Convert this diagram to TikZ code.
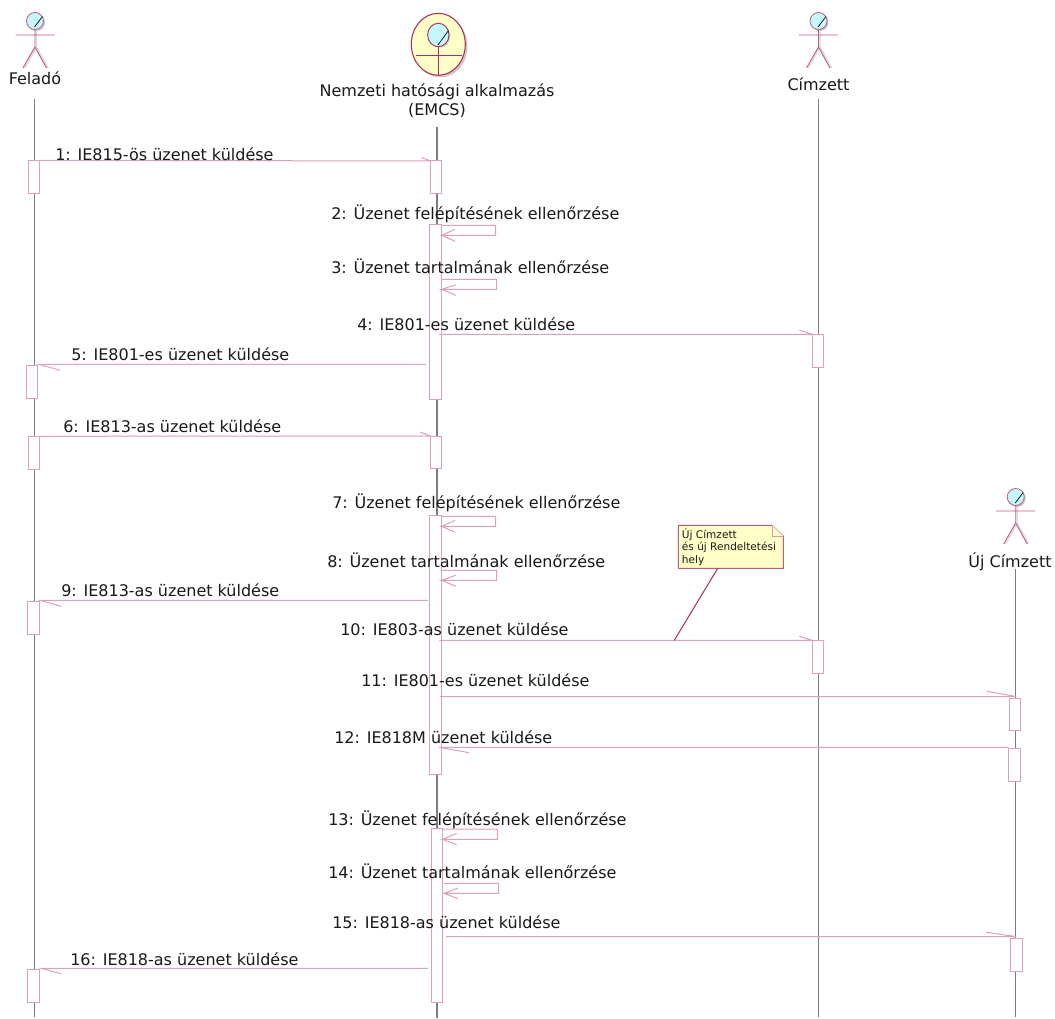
\documentclass[tikz,border=0pt]{standalone}
\usepackage{fontspec}
\usetikzlibrary{shapes.geometric}
\setmainfont{DejaVu Sans}
\definecolor{ln}{RGB}{222,160,182}
\definecolor{stick}{RGB}{196,90,125}
\definecolor{dk}{RGB}{175,45,90}
\definecolor{lifec}{RGB}{125,125,125}
\definecolor{cyanfill}{RGB}{196,248,255}
\definecolor{notefill}{RGB}{255,255,200}
\definecolor{txt}{RGB}{25,25,25}
\newcommand{\actbox}[5]{\node[actv,minimum width={(#4-#2)*0.75pt},minimum height={(#5-#3)*0.75pt}] (#1) at (#2,#3) {};}
\newcommand{\stickman}[2]{%
 \begin{scope}[shift={(#1,#2)}]
  \draw[gray!30,line width=0.9pt] (1.5,8.5) -- (1.5,26) (1.5,26) -- (-10,47) (1.5,26) -- (13,47);
  \fill[gray!45] (1.5,1.5) circle[radius=8.5*0.75pt];
  \draw[stick,fill=cyanfill,line width=0.6pt] (0,0) circle[radius=8.5*0.75pt];
  \draw[black,line width=0.5pt] (-0.5,6) -- (7.5,-4.5);
  \draw[stick,line width=0.7pt] (0,8.5) -- (0,26) -- (-12,47) (0,26) -- (11.5,47) (-19.5,14) -- (19.5,14);
 \end{scope}}
\tikzset{
 x=0.75pt,y=-0.75pt,
 actv/.style={draw=ln,fill=white,line width=0.75pt,anchor=north west,inner sep=0pt,outer sep=0pt},
 msg/.style={draw=ln,line width=0.75pt},
 life/.style={draw=lifec,line width=0.9pt},
 lbl/.style={text=txt,font=\fontsize{12}{14}\selectfont,anchor=base west,inner sep=0pt},
 head/.style={text=txt,font=\fontsize{12}{14.5}\selectfont,align=center,inner sep=0pt},
 notebody/.style={draw=stick,fill=notefill,line width=0.75pt},
 notetxt/.style={text=txt,font=\fontsize{7.9}{9.6}\selectfont,align=left,anchor=north west,inner sep=0pt},
}
\begin{document}
\begin{tikzpicture}
\useasboundingbox (0,0) rectangle (1055,1019);
\fill[white] (0,0) rectangle (1055,1019);
% lifeline ends
\coordinate (lFt) at (34.7,99); \coordinate (lFb) at (34.7,1017);
\coordinate (lEt) at (437,127); \coordinate (lEb) at (437,1018);
\coordinate (lCt) at (818.7,99); \coordinate (lCb) at (818.7,1017);
\coordinate (lNt) at (1015.7,569); \coordinate (lNb) at (1015.7,1017);
\draw[life] (lFt) -- (lFb);
\draw[life] (lEt) -- (lEb);
\draw[life] (lCt) -- (lCb);
\draw[life] (lNt) -- (lNb);
% actors
\stickman{35}{21}
\stickman{818.5}{21}
\stickman{1015.7}{497}
\node[head] (tF) at (35,78) {Feladó};
\node[head] (tC) at (818.5,84) {Címzett};
\node[head] (tN) at (1010,562) {Új Címzett};
% business actor
\fill[gray!40] (440.5,46.5) ellipse[x radius=27*0.75pt,y radius=31*0.75pt];
\node[draw=dk,fill=notefill,line width=0.8pt,ellipse,minimum width=40.5pt,minimum height=46.5pt,inner sep=0pt] (bEll) at (438.3,44.3) {};
\draw[dk,line width=0.8pt,shorten <=0pt] (438.3,47) -- (bEll.south);
\draw[dk,line width=0.8pt] (416,55.3) -- (461.7,55.3);
\fill[gray!45] (439.5,36) ellipse[x radius=10.7*0.75pt,y radius=11.7*0.75pt];
\draw[dk,fill=cyanfill,line width=0.7pt] (438.3,35) ellipse[x radius=10.7*0.75pt,y radius=11.7*0.75pt];
\draw[black,line width=0.5pt] (438,45) -- (448.5,30.5);
\node[head] (tE) at (437,100.5) {Nemzeti hatósági alkalmazás\\(EMCS)};
% activations
\actbox{F1}{28.3}{160.3}{39.7}{193.3}
\actbox{F2}{26.3}{365.3}{37.7}{398.7}
\actbox{F3}{28.3}{436.3}{39.7}{469.3}
\actbox{F4}{27.5}{601}{39.5}{634}
\actbox{F5}{27.7}{969.3}{39.7}{1002.3}
\actbox{E1}{430.3}{161}{441.7}{194}
\actbox{E2}{429.3}{224.3}{441.7}{399.3}
\actbox{E3}{430.3}{436}{441.7}{468.5}
\actbox{E4}{429.3}{515}{441.7}{774.3}
\actbox{E5}{431.3}{828}{442.7}{1002.7}
\actbox{C1}{812.3}{334.3}{823.7}{367.3}
\actbox{C2}{812.3}{640.3}{823.7}{673.3}
\actbox{N1}{1009.3}{698.3}{1020.7}{730.3}
\actbox{N2}{1008.3}{748.3}{1020.7}{781}
\actbox{N3}{1010.3}{938.3}{1022.7}{971.3}
% messages
\draw[msg] (F1.north east) -- (E1.north west) -- ++(-8.5,-3.5);
\coordinate (s2a) at (495.7,225.3); \coordinate (s2b) at (495.7,235.3);
\draw[msg] (E2.east |- s2a) -- (s2a) -- (s2b) -- (E2.east |- s2b) -- ++(13.5,-6) (E2.east |- s2b) -- ++(13.5,6);
\coordinate (s3a) at (496.7,279.3); \coordinate (s3b) at (496.7,289.3);
\draw[msg] (E2.east |- s3a) -- (s3a) -- (s3b) -- (E2.east |- s3b) -- ++(14,-4.5) (E2.east |- s3b) -- ++(14,6);
\coordinate (m4) at (439.3,334.3);
\draw[msg] (m4) -- (C1.north west) -- ++(-13,-4);
\coordinate (m5) at (426,364.3);
\draw[msg] (m5) -- (39,364.3) -- ++(21,6);
\draw[msg] (F3.north east) -- (E3.north west) -- ++(-10,-4);
\coordinate (s7a) at (495.7,516.3); \coordinate (s7b) at (495.7,526.3);
\draw[msg] (E4.east |- s7a) -- (s7a) -- (s7b) -- (E4.east |- s7b) -- ++(13.5,-6) (E4.east |- s7b) -- ++(13.5,6);
\coordinate (s8a) at (496.7,570.3); \coordinate (s8b) at (496.7,580.3);
\draw[msg] (E4.east |- s8a) -- (s8a) -- (s8b) -- (E4.east |- s8b) -- ++(14,-5) (E4.east |- s8b) -- ++(14,6);
\coordinate (m9) at (428,600.3);
\draw[msg] (m9) -- (40,600.3) -- ++(21,6);
\coordinate (m10) at (439.3,640.3);
\draw[msg] (m10) -- (C2.north west) -- ++(-13,-4);
\coordinate (m11) at (440,696.5);
\draw[msg] (m11) -- (1016,696.5) -- ++(-29,-5.2);
\coordinate (m12) at (1008.3,747.3);
\draw[msg] (m12) -- (439.3,747.3) -- ++(29.7,5.4);
\coordinate (s13a) at (497.3,829); \coordinate (s13b) at (497.3,839.3);
\draw[msg] (E5.east |- s13a) -- (s13a) -- (s13b) -- (E5.east |- s13b) -- ++(14,-6) (E5.east |- s13b) -- ++(14,5.5);
\coordinate (s14a) at (498.7,883.3); \coordinate (s14b) at (498.7,893.3);
\coordinate (s14c) at (444,883.3); \coordinate (s14d) at (444,893.3);
\draw[msg] (s14c) -- (s14a) -- (s14b) -- (s14d) -- ++(14,-5.3) (s14d) -- ++(14,5.4);
\coordinate (m15) at (446,936.5);
\draw[msg] (m15) -- (1016,936.5) -- ++(-30,-4.2);
\coordinate (m16) at (428,968.3);
\draw[msg] (m16) -- (41,968.3) -- ++(20.3,5.4);
% note
\coordinate (nA) at (678.3,525.3); \coordinate (nB) at (772,525.3); \coordinate (nC) at (783.3,536);
\coordinate (nD) at (783.3,568.3); \coordinate (nE) at (678.3,568.3);
\draw[notebody] (nA) -- (nB) -- (nC) -- (nD) -- (nE) -- cycle;
\draw[stick!60,line width=0.6pt,fill=notefill] (nB) -- (772,536) -- (nC);
\coordinate (nAnchor) at (717.7,568.3); \coordinate (nTgt) at (674.3,640.3);
\draw[dk,line width=0.75pt] (nAnchor) -- (nTgt);
\node[notetxt] (nT) at (681.7,528) {Új Címzett\\és új Rendeltetési\\hely};
% labels
\node[lbl] (t1) at (55,160.5) {1: IE815-ös üzenet küldése};
\node[lbl] (t2) at (331,219.5) {2: Üzenet felépítésének ellenőrzése};
\node[lbl] (t3) at (331,273.5) {3: Üzenet tartalmának ellenőrzése};
\node[lbl] (t4) at (357,330.5) {4: IE801-es üzenet küldése};
\node[lbl] (t5) at (71,360.5) {5: IE801-es üzenet küldése};
\node[lbl] (t6) at (63,432.5) {6: IE813-as üzenet küldése};
\node[lbl] (t7) at (332,508.5) {7: Üzenet felépítésének ellenőrzése};
\node[lbl] (t8) at (327,567.5) {8: Üzenet tartalmának ellenőrzése};
\node[lbl] (t9) at (61,596.5) {9: IE813-as üzenet küldése};
\node[lbl] (t10) at (340,635.5) {10: IE803-as üzenet küldése};
\node[lbl] (t11) at (361,686.5) {11: IE801-es üzenet küldése};
\node[lbl] (t12) at (334,743.5) {12: IE818M üzenet küldése};
\node[lbl] (t13) at (328,825.5) {13: Üzenet felépítésének ellenőrzése};
\node[lbl] (t14) at (328,878.5) {14: Üzenet tartalmának ellenőrzése};
\node[lbl] (t15) at (332,928.5) {15: IE818-as üzenet küldése};
\node[lbl] (t16) at (70,965.5) {16: IE818-as üzenet küldése};
\end{tikzpicture}
\end{document}
